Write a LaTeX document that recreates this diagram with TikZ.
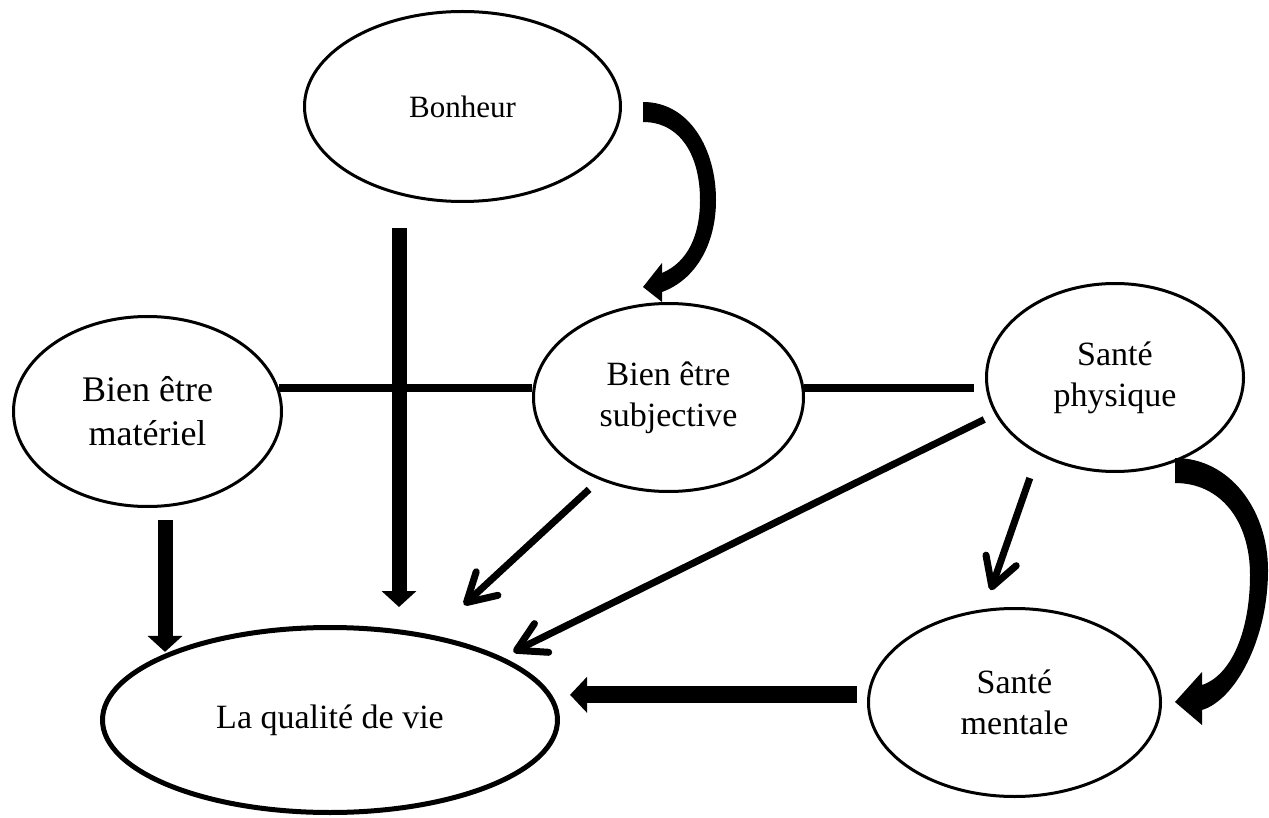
\documentclass[tikz,border=0pt]{standalone}
\usepackage{fontspec}
\setmainfont{Liberation Serif}
\usetikzlibrary{shapes.geometric,arrows.meta}

\tikzstyle{bubble}=[ellipse, draw=black, line width=3pt, inner sep=0pt, align=center, font=\fontsize{34pt}{41pt}\selectfont]
\tikzstyle{bar}=[line width=8pt]
\tikzstyle{fatarrow}=[line width=15pt, -{Triangle[length=16pt, width=34pt]}]
\tikzstyle{thinarrow}=[line width=7pt, -{Straight Barb[round, length=28pt, width=32pt]}]
\tikzstyle{bentarrow}=[fill=black]

\begin{document}
\begin{tikzpicture}[x=1pt, y=-1pt]

\useasboundingbox (0,0) rectangle (1269,818);

\node(bon)[bubble, minimum width=316pt, minimum height=190pt, font=\fontsize{31pt}{38pt}\selectfont] at (462.5,106.5){Bonheur};
\node(mat)[bubble, minimum width=268pt, minimum height=190pt, font=\fontsize{36pt}{44pt}\selectfont] at (147.5,411.5){Bien être\\matériel};
\node(subj)[bubble, minimum width=270pt, minimum height=188pt] at (668.5,397.5){Bien être\\subjective};
\node(phys)[bubble, minimum width=257pt, minimum height=188pt] at (1115,377.5){Santé\\physique};
\node(ment)[bubble, minimum width=292pt, minimum height=188pt] at (1014.5,702.5){Santé\\mentale};
\node(qual)[bubble, line width=5pt, minimum width=455pt, minimum height=185pt] at (330,720){La qualité de vie};

\coordinate(bonfoot) at (399,228);
\coordinate(matfoot) at (165,520);

\draw[bar](mat.10)--(mat.10 -| subj.west);
\draw[bar, shorten >=11pt](subj.4)--(subj.4 -| phys.west);

\draw[fatarrow, shorten >=18pt](bonfoot)--(bonfoot |- qual.north);
\draw[fatarrow](matfoot)--(matfoot |- qual.157);
\draw[fatarrow, line width=17pt, -{Triangle[length=17pt, width=35pt]}, shorten <=10pt, shorten >=10pt](ment.177)--(ment.177 -| qual.east);

\draw[thinarrow, shorten <=14pt, shorten >=44pt](subj.230)--(qual.40);
\draw[thinarrow, shorten <=12pt, shorten >=12pt](phys.197)--(qual.20);
\draw[thinarrow, shorten <=25pt, shorten >=20pt](phys.225)--(ment.108);

\fill[bentarrow](643,102) .. controls (690,102) and (716,150) .. (716,200) .. controls (716,245) and (695,280) .. (662,292) -- (662,302) -- (643,287) -- (662,263) -- (662,273) .. controls (688,262) and (700,235) .. (700,200) .. controls (700,155) and (680,122) .. (643,122) -- cycle;
\fill[bentarrow](1175,458) .. controls (1230,458) and (1268,510) .. (1268,570) .. controls (1268,640) and (1235,700) .. (1202,710) -- (1202,725) -- (1175,702) -- (1202,672) -- (1202,685) .. controls (1232,675) and (1250,630) .. (1250,575) .. controls (1250,520) and (1220,483) .. (1175,483) -- cycle;

\end{tikzpicture}
\end{document}
